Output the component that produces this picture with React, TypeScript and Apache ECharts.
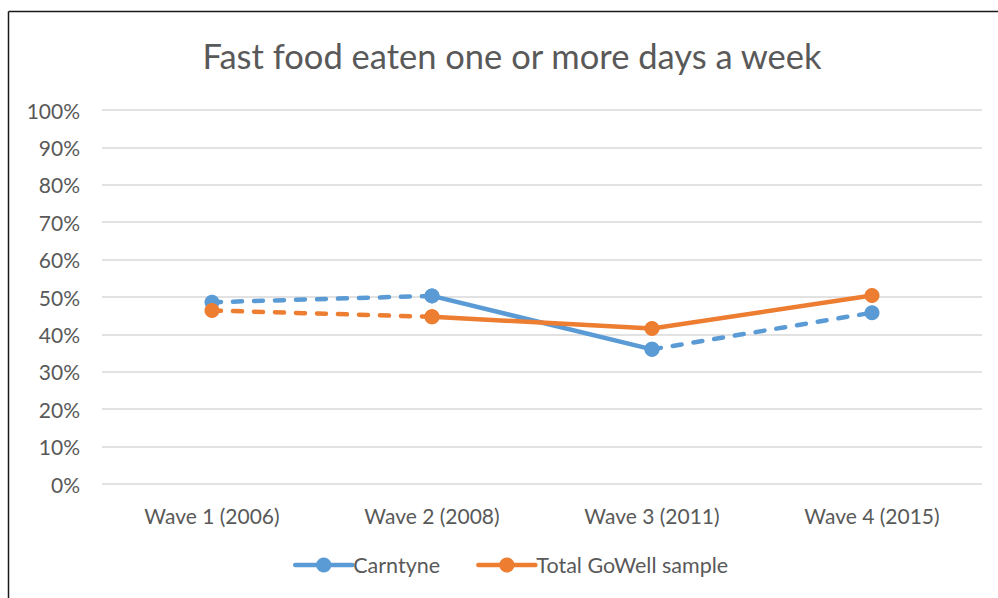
import React, { useEffect, useRef } from "react";
import * as echarts from "echarts";

const categories = ["Wave 1 (2006)", "Wave 2 (2008)", "Wave 3 (2011)", "Wave 4 (2015)"];
const carntyne = [48.6, 50.3, 36.0, 45.8];
const totalGoWell = [46.4, 44.7, 41.6, 50.4];
const seriesNames = ["Carntyne", "Total GoWell sample"];
const yTicks = { min: 0, max: 100, interval: 10 };

const BLUE = "#5B9BD5";
const ORANGE = "#ED7D31";
const FONT = "Lato, 'Open Sans', sans-serif";

function pick(arr: number[], idx: number[]) {
  return arr.map((v, i) => (idx.includes(i) ? v : "-"));
}

export default function App() {
  const ref = useRef<HTMLDivElement>(null);
  useEffect(() => {
    if (!ref.current) return;
    const chart = echarts.init(ref.current, null, { renderer: "svg" });
    const base = (color: string, dashed: boolean, name: string, data: any[], z: number) => ({
      type: "line",
      name,
      data,
      z,
      symbol: "circle",
      symbolSize: 15,
      showSymbol: true,
      connectNulls: false,
      itemStyle: { color },
      lineStyle: {
        color,
        width: 4.5,
        type: dashed ? [9, 12] : "solid",
        cap: "round",
      },
      emphasis: { disabled: true },
    });
    chart.setOption({
      animation: false,
      backgroundColor: "#ffffff",
      title: {
        text: "Fast food eaten one or more days a week",
        left: 507,
        top: 33,
        textAlign: "center",
        textStyle: { fontFamily: FONT, fontSize: 34.5, fontWeight: "normal", color: "#595959" },
      },
      legend: {
        data: seriesNames,
        bottom: 17,
        left: 288,
        itemWidth: 57,
        itemHeight: 19,
        itemGap: 36,
        textStyle: { fontFamily: FONT, fontSize: 21.5, color: "#595959", padding: [0, 0, 0, -4] },
        lineStyle: { type: "solid", width: 4.5 },
      },
      grid: { left: 102, right: 16, top: 110, bottom: 114 },
      xAxis: {
        type: "category",
        data: categories,
        boundaryGap: true,
        axisLine: { show: false },
        axisTick: { show: false },
        axisLabel: { fontFamily: FONT, fontSize: 21, color: "#595959", margin: 21 },
      },
      yAxis: {
        type: "value",
        min: yTicks.min,
        max: yTicks.max,
        interval: yTicks.interval,
        axisLine: { show: false },
        axisTick: { show: false },
        splitLine: { lineStyle: { color: "#d9d9d9", width: 1.5 } },
        axisLabel: {
          fontFamily: FONT,
          fontSize: 21,
          color: "#595959",
          margin: 22,
          formatter: (v: number) => v + "%",
        },
      },
      series: [
        base(BLUE, false, seriesNames[0], pick(carntyne, [1, 2]), 2),
        base(BLUE, true, seriesNames[0], pick(carntyne, [0, 1]), 2),
        base(BLUE, true, seriesNames[0], pick(carntyne, [2, 3]), 2),
        base(ORANGE, false, seriesNames[1], pick(totalGoWell, [1, 2, 3]), 3),
        base(ORANGE, true, seriesNames[1], pick(totalGoWell, [0, 1]), 3),
      ],
      graphic: [
        { type: "line", shape: { x1: 8.5, y1: 11.5, x2: 998, y2: 11.5 }, style: { stroke: "#1a1a1a", lineWidth: 1.5 } },
        { type: "line", shape: { x1: 8.5, y1: 11.5, x2: 8.5, y2: 598 }, style: { stroke: "#1a1a1a", lineWidth: 1.5 } },
      ],
    });
    return () => chart.dispose();
  }, []);
  return (
    <div
      ref={ref}
      style={{ position: "absolute", left: 0, top: 0, width: 998, height: 598 }}
    />
  );
}
